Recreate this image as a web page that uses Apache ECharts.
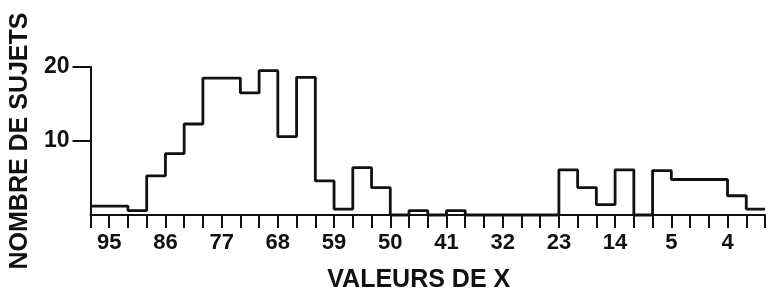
<!DOCTYPE html>
<html>
<head>
<meta charset="utf-8">
<script src="https://cdn.jsdelivr.net/npm/echarts@6/dist/echarts.min.js"></script>
<style>
  html, body { margin: 0; padding: 0; background: #fff; }
  #chart { width: 768px; height: 298px; }
</style>
</head>
<body>
<div id="chart"></div>
<script>
// ======================
// DATA
// ======================

// one count per class, left to right; class width = one tick (3 units of X)
const binCounts = [
    1.2, 1.2, 0.6, 5.3, 8.3, 12.3, 18.5, 18.5, 16.5, 19.5, 10.6, 18.6,
    4.6, 0.8, 6.4, 3.7, 0, 0.6, 0, 0.6, 0, 0, 0, 0,
    0, 6.1, 3.7, 1.4, 6.1, 0, 6.0, 4.8, 4.8, 4.8, 2.6, 0.8,
];
// labels on every third tick, starting at tick 1
const tickLabels = ['95', '86', '77', '68', '59', '50', '41', '32', '23', '14', '5', '4'];
const yTickValues = [10, 20];

const yTitle = 'NOMBRE DE SUJETS';
const xTitle = 'VALEURS DE X';

// ======================
// CHART
// ======================

const INK = '#111';
const FONT = 'Liberation Sans, Arial, sans-serif';

// outline of the histogram: one point per class edge
const stepData = binCounts.map((v, i) => [i, v]);
stepData.push([binCounts.length, binCounts[binCounts.length - 1]]);

const chart = echarts.init(document.getElementById('chart'), null, { renderer: 'canvas' });

chart.setOption({
    animation: false,
    grid: { left: 88, top: 67, width: 681, height: 152 },
    xAxis: {
        type: 'value',
        min: 0,
        max: binCounts.length,
        interval: 1,
        name: xTitle,
        nameLocation: 'middle',
        nameGap: 53,
        nameTextStyle: {
            color: INK, fontFamily: FONT, fontWeight: 'bold', fontSize: 25,
            padding: [0, 18, 0, 0],
        },
        axisLine: { show: true, lineStyle: { color: INK, width: 2 } },
        axisTick: { show: true, length: 13, lineStyle: { color: INK, width: 2 } },
        axisLabel: {
            color: INK, fontFamily: FONT, fontWeight: 'bold', fontSize: 22,
            margin: 17,
            showMinLabel: true, showMaxLabel: true,
            formatter: v => ((v - 1) % 3 === 0 ? (tickLabels[(v - 1) / 3] || '') : ''),
        },
        splitLine: { show: false },
    },
    yAxis: {
        type: 'value',
        min: 0,
        max: 20,
        interval: 10,
        name: yTitle,
        nameLocation: 'middle',
        nameRotate: 90,
        nameGap: 52,
        nameTextStyle: { color: INK, fontFamily: FONT, fontWeight: 'bold', fontSize: 25 },
        axisLine: { show: true, lineStyle: { color: INK, width: 2 } },
        axisTick: { show: true, length: 18, customValues: yTickValues, lineStyle: { color: INK, width: 2 } },
        axisLabel: {
            color: INK, fontFamily: FONT, fontWeight: 'bold', fontSize: 23,
            margin: 21,
            customValues: yTickValues,
        },
        splitLine: { show: false },
    },
    series: [
        {
            type: 'line',
            data: stepData,
            step: 'end',
            symbol: 'none',
            clip: false,
            lineStyle: { color: INK, width: 2.8 },
        },
    ],
});
</script>
</body>
</html>
